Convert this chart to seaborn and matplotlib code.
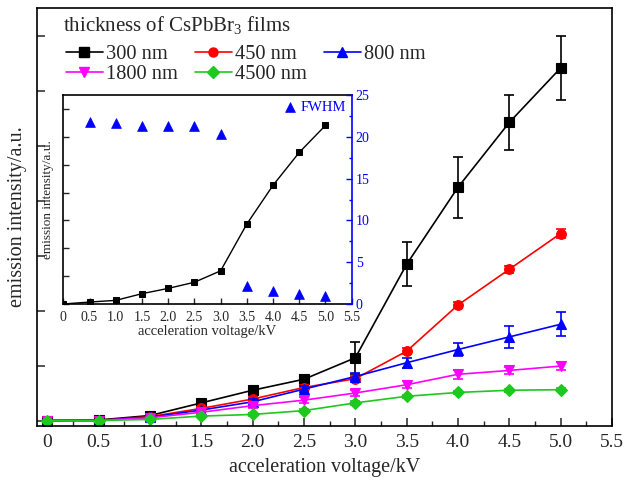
import numpy as np
import pandas as pd
import matplotlib
matplotlib.use("Agg")
import matplotlib.pyplot as plt
import seaborn as sns
from matplotlib.ticker import MultipleLocator, FixedLocator
from matplotlib.lines import Line2D

# ---------------- data ----------------
voltage = [0, 0.5, 1.0, 1.5, 2.0, 2.5, 3.0, 3.5, 4.0, 4.5, 5.0]
tick_labels = ["0", "0.5", "1.0", "1.5", "2.0", "2.5", "3.0", "3.5", "4.0", "4.5", "5.0", "5.5"]

i300 = [0, 0.01, 0.09, 0.32, 0.55, 0.75, 1.14, 2.84, 4.24, 5.42, 6.41]
e300 = [0, 0, 0.02, 0.04, 0.06, 0.08, 0.29, 0.40, 0.55, 0.50, 0.59]
i450 = [0, 0, 0.07, 0.22, 0.39, 0.60, 0.76, 1.26, 2.10, 2.75, 3.40]
e450 = [0, 0, 0.02, 0.03, 0.04, 0.04, 0.05, 0.05, 0.05, 0.06, 0.09]
i800 = [0, 0, 0.06, 0.19, 0.34, 0.57, 0.80, 1.05, 1.29, 1.52, 1.75]
e800 = [0, 0, 0.02, 0.03, 0.05, 0.05, 0.06, 0.09, 0.12, 0.20, 0.22]
i1800 = [0, 0, 0.05, 0.15, 0.27, 0.37, 0.50, 0.65, 0.84, 0.91, 0.99]
e1800 = [0, 0, 0.02, 0.03, 0.05, 0.06, 0.06, 0.06, 0.08, 0.07, 0.08]
i4500 = [0, 0, 0.02, 0.08, 0.11, 0.18, 0.32, 0.44, 0.51, 0.55, 0.56]
e4500 = [0, 0, 0.01, 0.02, 0.02, 0.03, 0.03, 0.03, 0.03, 0.03, 0.03]

series_names = ["300 nm", "450 nm", "800 nm", "1800 nm", "4500 nm"]
series_vals = [i300, i450, i800, i1800, i4500]
series_err = [e300, e450, e800, e1800, e4500]
series_colors = ["#000000", "#ff0000", "#0000ff", "#ff00ff", "#1ec81e"]
series_markers = ["s", "o", "^", "v", "D"]
series_ms = [6.5, 7, 7.5, 7.5, 6.5]

inset_int = [0, 0.07, 0.13, 0.37, 0.56, 0.78, 1.19, 2.87, 4.26, 5.44, 6.41]
fwhm_v = [0.5, 1.0, 1.5, 2.0, 2.5, 3.0, 3.5, 4.0, 4.5, 5.0]
fwhm = [21.8, 21.6, 21.3, 21.3, 21.3, 20.3, 2.1, 1.5, 1.2, 1.0]

# ---------------- style ----------------
sns.set_style("ticks")
plt.rcParams["font.family"] = ["Liberation Serif", "DejaVu Serif"]
plt.rcParams["mathtext.fontset"] = "custom"
plt.rcParams["mathtext.rm"] = "Liberation Serif"
plt.rcParams["mathtext.it"] = "Liberation Serif:italic"
plt.rcParams["axes.linewidth"] = 1.2

W, H = 628, 484
fig = plt.figure(figsize=(W / 100, H / 100), dpi=100)
ax = fig.add_axes([37 / W, 1 - 426 / H, (612 - 37) / W, (426 - 8) / H])

for name, vals, errs, col, mk, ms in zip(series_names, series_vals, series_err,
                                         series_colors, series_markers, series_ms):
    df = pd.DataFrame({"voltage": voltage, "intensity": vals})
    sns.lineplot(data=df, x="voltage", y="intensity", ax=ax, color=col, marker=mk,
                 markersize=ms, markeredgecolor=col, markeredgewidth=0.8,
                 linewidth=1.2, label=name, legend=False)
    ax.errorbar(voltage, vals, yerr=errs, fmt="none", ecolor=col, elinewidth=1.2,
                capsize=3.5, capthick=1.2)

ax.set_xlim(-0.1, 5.5)
ax.set_ylim(-0.1, 7.5)
ax.xaxis.set_major_locator(FixedLocator(np.arange(0, 5.51, 0.5)))
ax.set_xticklabels(tick_labels)
ax.xaxis.set_minor_locator(MultipleLocator(0.25))
ax.yaxis.set_major_locator(MultipleLocator(1))
ax.set_yticklabels([])
ax.tick_params(axis="x", which="major", direction="in", length=6, width=1.1,
               labelsize=14, pad=6, top=False)
ax.tick_params(axis="x", which="minor", direction="in", length=3.5, width=1.0, top=False)
ax.tick_params(axis="y", which="major", direction="in", length=6, width=1.1,
               right=False, left=True)
ax.set_xlabel("acceleration voltage/kV", fontsize=14.5, labelpad=5)
ax.set_ylabel("emission intensity/a.u.", fontsize=14.5, labelpad=4)
for sp in ax.spines.values():
    sp.set_visible(True)
    sp.set_color("black")
    sp.set_linewidth(1.2)

# legend title as text, entries as a legend (row-wise order)
fig.text(63 / W, 1 - 31 / H, "thickness of $\\mathrm{CsPbBr_3}$ films",
         fontsize=15, va="baseline", ha="left")
handles = [Line2D([0], [0], color=c, marker=m, markersize=6.5, markeredgecolor=c, linewidth=1.2)
           for c, m in zip(series_colors, series_markers)]
order = [0, 3, 1, 4, 2]
leg = ax.legend([handles[i] for i in order], [series_names[i] for i in order],
                ncol=3, loc="upper left", bbox_to_anchor=(66 / W, 1 - 45 / H),
                bbox_transform=fig.transFigure, frameon=False,
                fontsize=14.7, handlelength=1.8, handletextpad=0.15, columnspacing=0.85,
                labelspacing=0.02, borderpad=0.0, borderaxespad=0.0)

# ---------------- inset ----------------
axi = fig.add_axes([63.3 / W, 1 - 304 / H, (351.7 - 63.3) / W, (304 - 95) / H])
dfi = pd.DataFrame({"voltage": voltage, "intensity": inset_int})
sns.lineplot(data=dfi, x="voltage", y="intensity", ax=axi, color="black", marker="s",
             markersize=5, markeredgecolor="black", linewidth=1.0, legend=False)
axi.set_xlim(0, 5.5)
axi.set_ylim(0, 7.5)
axi.xaxis.set_major_locator(FixedLocator(np.arange(0, 5.51, 0.5)))
axi.set_xticklabels(tick_labels)
axi.yaxis.set_major_locator(MultipleLocator(1))
axi.set_yticklabels([])
axi.tick_params(axis="x", direction="in", length=4, width=1.0, labelsize=10, pad=5, top=False)
axi.tick_params(axis="y", direction="in", length=4, width=1.0, right=False)
axi.set_xlabel("acceleration voltage/kV", fontsize=10.5, labelpad=1)
axi.set_ylabel("emission intensity/a.u.", fontsize=9.5, labelpad=3)
axi.spines["right"].set_visible(False)
for s in ["left", "top", "bottom"]:
    axi.spines[s].set_linewidth(1.2)
    axi.spines[s].set_color("black")

ax2 = axi.twinx()
dff = pd.DataFrame({"voltage": fwhm_v, "FWHM": fwhm})
sns.scatterplot(data=dff, x="voltage", y="FWHM", ax=ax2, marker="^", color="#0000ff",
                s=50, edgecolor="#0000ff", linewidth=0.5, label="FWHM", legend=False)
ax2.set_ylim(0, 25)
ax2.yaxis.set_major_locator(MultipleLocator(5))
ax2.yaxis.set_minor_locator(MultipleLocator(2.5))
ax2.set_ylabel("")
ax2.tick_params(axis="y", which="major", direction="in", length=4, width=1.0,
                colors="#0000ff", labelsize=10, pad=3)
ax2.tick_params(axis="y", which="minor", direction="in", length=2.5, width=1.0,
                colors="#0000ff")
ax2.spines["right"].set_color("#0000ff")
ax2.spines["right"].set_linewidth(1.2)
for s in ["left", "top", "bottom"]:
    ax2.spines[s].set_visible(False)
fl = ax2.legend(loc="upper right", frameon=False, fontsize=10.5, handletextpad=0.1,
                borderpad=0.3, borderaxespad=0.1, handlelength=1.2)
for t in fl.get_texts():
    t.set_color("#0000ff")

fig.savefig("out.png", dpi=100)
